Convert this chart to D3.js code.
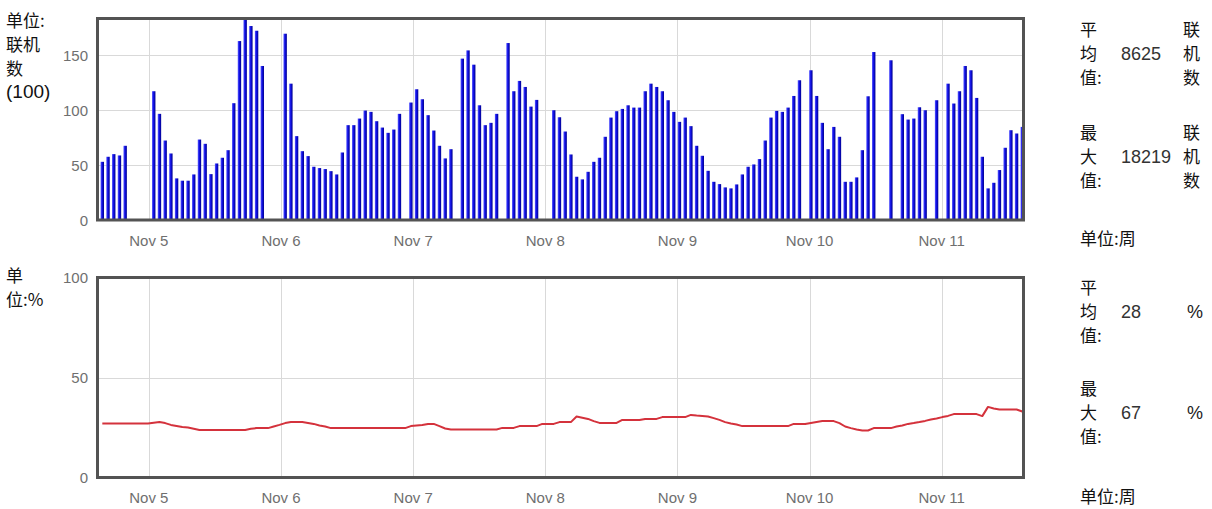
<!DOCTYPE html>
<html>
<head>
<meta charset="utf-8">
<script src="https://cdn.jsdelivr.net/npm/d3@7"></script>
<style>
  html, body { margin: 0; padding: 0; background: #fff; }
  svg { display: block; }
  .tick-label { font-family: "Liberation Sans", Arial, sans-serif; font-size: 15px; fill: #6f6f6f; }
  .cjk { font-family: "Noto Sans CJK SC", sans-serif; font-size: 17px; fill: #111; }
  .num { font-family: "Liberation Sans", Arial, sans-serif; font-size: 18px; fill: #333; }
</style>
</head>
<body>
<svg id="chart" width="1212" height="509"></svg>
<script>
// ---- data ----
const startTime = new Date(2013, 10, 4, 14, 40);
const endTime = new Date(2013, 10, 11, 14, 40);

// online machine count (unit: 100), one entry per sample slot, null = no data
const connections = [53.0,57.6,60.0,58.8,67.6,null,null,null,null,
117.3,96.7,72.4,60.6,37.9,35.8,35.8,41.5,73.3,69.4,41.8,51.5,56.7,63.6,106.4,163.0,182.19,176.7,172.4,140.3,
null,null,null,
169.7,124.2,76.4,62.7,58.2,48.5,47.3,46.4,44.5,41.5,61.5,86.4,86.4,92.4,99.7,98.5,90.0,84.2,79.4,82.4,96.7,
null,
107.0,119.1,110.0,95.5,81.5,67.6,56.1,64.5,
null,
147.0,154.5,141.5,104.5,86.4,88.5,96.7,
null,
161.2,117.3,126.7,121.2,103.3,109.4,
null,null,
100.0,93.6,80.6,59.7,39.4,37.0,43.9,53.0,56.7,75.8,93.3,99.1,101.2,104.5,102.4,102.4,117.3,
124.2,121.2,117.3,109.1,98.5,89.4,93.3,85.5,67.6,58.5,44.8,34.8,32.7,29.7,28.8,32.4,41.5,48.5,50.6,55.5,72.4,93.3,99.4,98.5,102.4,113.0,127.3,
null,
136.4,113.0,88.5,64.5,84.8,75.8,34.8,34.8,38.8,63.6,112.7,153.0,
null,null,
145.5,
null,
96.4,91.5,92.4,102.7,100.0,
null,
109.1,
null,
124.2,106.1,117.3,140.3,136.4,111.2,57.6,28.8,33.9,45.5,65.8,81.8,78.8,84.8];

// percentage, one entry per sample slot
const percent = [27,27,27,27,27,27,27,27,27,
27.4,27.7,27.2,26.3,25.8,25.3,25.0,24.4,
23.8,23.8,23.8,23.8,23.8,23.8,23.8,23.8,23.8,
24.4,24.7,24.7,24.7,25.5,26.3,27.2,27.7,27.7,27.7,27.3,26.8,26.0,25.5,
24.7,24.7,24.7,24.7,24.7,24.7,24.7,24.7,24.7,24.7,24.7,24.7,24.7,24.7,
25.7,26.0,26.3,26.8,26.8,25.7,24.5,
24.0,24.0,24.0,24.0,24.0,24.0,24.0,24.0,24.0,
24.8,24.8,24.8,
25.7,25.7,25.7,25.7,
26.8,26.8,26.8,
27.7,27.7,27.7,
30.5,29.9,29.3,28.2,
27.3,27.3,27.3,27.3,
28.8,28.8,28.8,28.8,
29.3,29.3,29.3,
30.2,30.2,30.2,30.2,30.2,
31.3,31.0,30.8,30.5,29.7,28.8,27.7,27.0,26.5,
25.7,25.7,25.7,25.7,25.7,25.7,25.7,25.7,25.7,
26.8,26.8,26.8,
27.3,27.8,28.2,28.2,28.2,27.2,25.5,24.7,24.0,23.5,23.5,
24.7,24.7,24.7,24.7,
25.5,26.0,26.8,27.2,27.7,28.3,29.0,29.5,30.2,30.8,
31.7,31.7,31.7,31.7,31.7,
30.7,35.3,34.5,34.0,34.0,34.0,34.0,33.0];

const slots = d3.range(connections.length);
const topTicks = [0, 50, 100, 150];
const bottomTicks = [0, 50, 100];
const topMax = 182.19;

const topLabelLines = ["单位:", "联机", "数", "(100)"];
const bottomLabelLines = ["单", "位:%"];
const statsTop = { avgLabel: ["平", "均", "值:"], avg: "8625", maxLabel: ["最", "大", "值:"], max: "18219", unit: ["联", "机", "数"], period: "单位:周" };
const statsBottom = { avgLabel: ["平", "均", "值:"], avg: "28", maxLabel: ["最", "大", "值:"], max: "67", unit: ["%"], period: "单位:周" };

// ---- layout ----
const svg = d3.select("#chart");
const L = 97.5, R = 1023.5;
const top1 = 18.5, bot1 = 220;
const top2 = 277.5, bot2 = 477.5;

const xTime = d3.scaleTime().domain([startTime, endTime]).range([L, 1022.5]);
const xBand = d3.scaleBand().domain(slots).range([99.45, 1025.15]).padding(0);
const bw = 3.4;
const xc = i => xBand(i) + xBand.bandwidth() / 2;

const yTop = d3.scaleLinear().domain([0, topMax]).range([bot1, top1 + 1.5]);
const yBot = d3.scaleLinear().domain([0, 100]).range([bot2, top2]);

const dayTicks = xTime.ticks(d3.timeDay.every(1));
const fmt = d3.timeFormat("%b %-d");

const defs = svg.append("defs");
const grad = defs.append("linearGradient").attr("id", "barGrad").attr("x1", "0").attr("x2", "1").attr("y1", "0").attr("y2", "0");
grad.append("stop").attr("offset", "0%").attr("stop-color", "#5a5aff");
grad.append("stop").attr("offset", "45%").attr("stop-color", "#1010e6");
grad.append("stop").attr("offset", "100%").attr("stop-color", "#00008c");
defs.append("clipPath").attr("id", "clipTop").append("rect").attr("x", L).attr("y", top1).attr("width", R - L).attr("height", bot1 - top1);
defs.append("clipPath").attr("id", "clipBot").append("rect").attr("x", L).attr("y", top2).attr("width", R - L).attr("height", bot2 - top2);

function panel(yScale, ticks, y0, y1, labelY) {
  const g = svg.append("g");
  g.selectAll("line.hg").data(ticks.filter(t => t > 0 && yScale(t) > y0 + 2)).enter().append("line")
    .attr("x1", L).attr("x2", R).attr("y1", d => Math.round(yScale(d)) + 0.5).attr("y2", d => Math.round(yScale(d)) + 0.5)
    .attr("stroke", "#d9d9d9").attr("stroke-width", 1);
  g.selectAll("line.vg").data(dayTicks).enter().append("line")
    .attr("x1", d => Math.round(xTime(d)) + 0.5).attr("x2", d => Math.round(xTime(d)) + 0.5)
    .attr("y1", y0).attr("y2", y1)
    .attr("stroke", "#d9d9d9").attr("stroke-width", 1);
  g.selectAll("text.yl").data(ticks).enter().append("text")
    .attr("class", "tick-label").attr("x", 88).attr("y", d => yScale(d))
    .attr("text-anchor", "end").attr("dominant-baseline", "central").text(d => d);
  g.selectAll("text.xl").data(dayTicks).enter().append("text")
    .attr("class", "tick-label").attr("x", d => xTime(d)).attr("y", labelY)
    .attr("text-anchor", "middle").attr("dominant-baseline", "central").text(d => fmt(d));
  return g;
}

panel(yTop, topTicks, top1, bot1, 240);
panel(yBot, bottomTicks, top2, bot2, 497);

// bars
svg.append("g").attr("clip-path", "url(#clipTop)")
  .selectAll("rect").data(slots.filter(i => connections[i] !== null)).enter().append("rect")
  .attr("x", i => xc(i) - bw / 2).attr("width", bw)
  .attr("y", i => yTop(connections[i])).attr("height", i => bot1 - yTop(connections[i]))
  .attr("fill", "url(#barGrad)");

// line
const line = d3.line().x((d, i) => xc(i)).y(d => yBot(d)).curve(d3.curveLinear);
svg.append("g").attr("clip-path", "url(#clipBot)").append("path")
  .datum(percent).attr("d", line)
  .attr("fill", "none").attr("stroke", "#d4323c").attr("stroke-width", 2).attr("stroke-linejoin", "round");

// frames
[[top1, bot1], [top2, bot2]].forEach(([a, b]) => {
  svg.append("rect").attr("x", L).attr("y", a).attr("width", R - L).attr("height", b - a)
    .attr("fill", "none").attr("stroke", "#535353").attr("stroke-width", 3);
});

// left unit labels
topLabelLines.forEach((t, i) => {
  const isNum = t.startsWith("(");
  svg.append("text").attr("class", isNum ? "num" : "cjk")
    .style("fill", "#111").style("font-size", isNum ? "19px" : null)
    .attr("x", isNum ? 6 : 6).attr("y", [19, 43, 67, 91][i]).attr("dominant-baseline", "central").text(t);
});
bottomLabelLines.forEach((t, i) => {
  svg.append("text").attr("class", "cjk").attr("x", 6).attr("y", [274, 298][i])
    .attr("dominant-baseline", "central").text(t);
});

// right stats
function stats(s, ys, period, periodY) {
  const g = svg.append("g");
  [[s.avgLabel, s.avg, ys[0]], [s.maxLabel, s.max, ys[1]]].forEach(([lab, val, y]) => {
    lab.forEach((c, k) => g.append("text").attr("class", "cjk").attr("x", 1080).attr("y", y + (k - 1) * 24)
      .attr("dominant-baseline", "central").text(c));
    g.append("text").attr("class", "num").attr("x", 1121).attr("y", y + 2).attr("dominant-baseline", "central").text(val);
    if (s.unit.length === 3) {
      s.unit.forEach((c, k) => g.append("text").attr("class", "cjk").attr("x", 1183).attr("y", y + (k - 1) * 24)
        .attr("dominant-baseline", "central").text(c));
    } else {
      g.append("text").attr("class", "num").style("fill", "#222").attr("x", 1187).attr("y", y + 2)
        .attr("dominant-baseline", "central").text(s.unit[0]);
    }
  });
  g.append("text").attr("class", "cjk").attr("x", 1080).attr("y", periodY).attr("dominant-baseline", "central").text(period);
}
stats(statsTop, [52, 155], statsTop.period, 237);
stats(statsBottom, [310, 411], statsBottom.period, 495);
</script>
</body>
</html>
